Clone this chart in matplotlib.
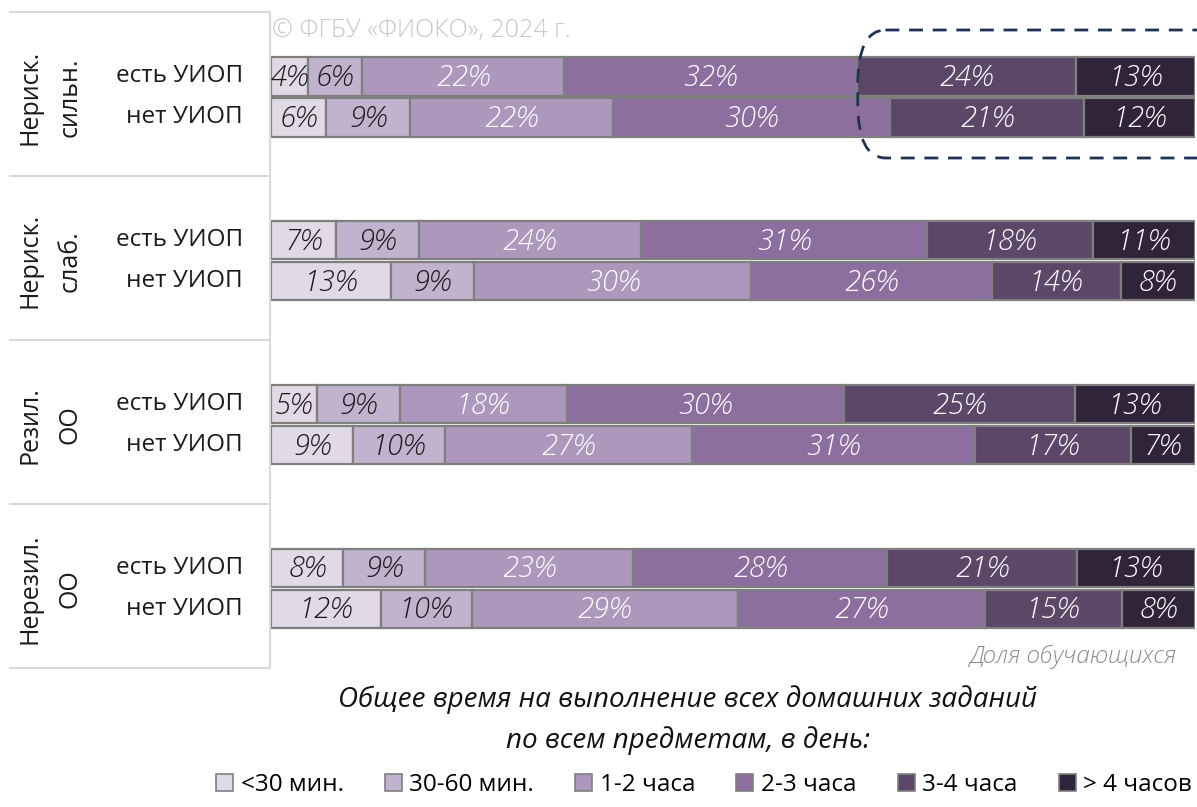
import matplotlib
matplotlib.use("Agg")
import matplotlib.pyplot as plt
from matplotlib.patches import Patch, FancyBboxPatch
from matplotlib.transforms import blended_transform_factory
import numpy as np

plt.rcParams['font.family'] = ['Open Sans', 'DejaVu Sans']

groups = ["Нериск.\nсильн.", "Нериск.\nслаб.", "Резил.\nОО", "Нерезил.\nОО"]
rows = ["есть УИОП", "нет УИОП"]
categories = ["<30 мин.", "30-60 мин.", "1-2 часа", "2-3 часа", "3-4 часа", "> 4 часов"]

# values per group: [есть УИОП, нет УИОП], each list over categories
nerisk_siln = [[4, 6, 22, 32, 24, 13], [6, 9, 22, 30, 21, 12]]
nerisk_slab = [[7, 9, 24, 31, 18, 11], [13, 9, 30, 26, 14, 8]]
rezil = [[5, 9, 18, 30, 25, 13], [9, 10, 27, 31, 17, 7]]
nerezil = [[8, 9, 23, 28, 21, 13], [12, 10, 29, 27, 15, 8]]
data = [nerisk_siln, nerisk_slab, rezil, nerezil]

colors = ["#E0D9E6", "#C1B2CE", "#AD97BC", "#8D6F9F", "#5D4769", "#30243A"]
text_colors = ["#1a1a1a", "#1a1a1a", "white", "white", "white", "white"]

W, H = 1197, 807
fig = plt.figure(figsize=(W / 100, H / 100), dpi=100)

px_per_unit = 40.96
y_top = -76.5 / px_per_unit
y_bot = (H - 76.5) / px_per_unit
ax = fig.add_axes([271 / W, 0, (1195 - 271) / W, 1])
ax.set_xlim(0, 100)
ax.set_ylim(y_bot, y_top)
ax.axis('off')

LW = 'light'
bar_h = 0.93
for g, grp in enumerate(data):
    for r, vals in enumerate(grp):
        y = g * 4 + r
        vals = np.array(vals, dtype=float)
        shares = vals / vals.sum() * 100
        left = 0
        for c, (v, s) in enumerate(zip(vals, shares)):
            ax.barh(y, s, left=left, height=bar_h, color=colors[c],
                    edgecolor="#7F7F7F", linewidth=1.6)
            ax.text(left + s / 2, y + 0.04, f"{int(v)}%", ha='center', va='center',
                    fontsize=21, style='italic', color=text_colors[c], fontweight=LW)
            left += s

# left table
trans = blended_transform_factory(fig.transFigure, ax.transData)
bounds = [g * 4 - 1.57 for g in range(4)] + [14.45]
for b in bounds:
    ax.plot([10 / W, 270 / W], [b, b], transform=trans, color="#D9D9D9",
            lw=1.5, clip_on=False)
ax.plot([270 / W, 270 / W], [bounds[0], bounds[-1]], transform=trans,
        color="#D9D9D9", lw=1.5, clip_on=False)

for g, name in enumerate(groups):
    yc = g * 4 + 0.5
    ax.text(50 / W, yc, name, transform=trans, rotation=90, ha='center',
            va='center', fontsize=18, linespacing=1.75, color="#1a1a1a")
    for r, rl in enumerate(rows):
        ax.text(243 / W, g * 4 + r, rl, transform=trans, ha='right', va='center',
                fontsize=17.5, color="#1a1a1a")

# dashed rounded box
box_y0 = 30 / px_per_unit + y_top
box_y1 = 158 / px_per_unit + y_top
box = FancyBboxPatch((63.5, box_y0), 45, box_y1 - box_y0,
                     boxstyle="round,pad=0,rounding_size=3",
                     fill=False, edgecolor="#1F3255", linewidth=2,
                     linestyle=(0, (5, 3.5)), clip_on=False,
                     mutation_aspect=0.45)
ax.add_patch(box)

fig.text(272 / W, 1 - 31 / H, "© ФГБУ «ФИОКО», 2024 г.", fontsize=18,
         color="#C8C8C8", va='center', ha='left', fontweight=LW)
fig.text(1177 / W, 1 - 657 / H, "Доля обучающихся", fontsize=17.5,
         style='italic', color="#8C8C8C", ha='right', va='center', fontweight=LW)
fig.text(688 / W, 1 - 700 / H, "Общее время на выполнение всех домашних заданий",
         fontsize=20, style='italic', color="#111111", ha='center', va='center')
fig.text(688 / W, 1 - 741 / H, "по всем предметам, в день:",
         fontsize=20, style='italic', color="#111111", ha='center', va='center')

handles = [Patch(facecolor=c, edgecolor="#7F7F7F", linewidth=1.2) for c in colors]
leg = fig.legend(handles, categories, ncol=6, loc='center', bbox_to_anchor=(704 / W, 1 - 785 / H),
                 frameon=False, handlelength=0.7, handleheight=0.7,
                 handletextpad=0.3, columnspacing=1.7, borderaxespad=0,
                 prop={'size': 17.5})

fig.savefig("out.png", dpi=100)
